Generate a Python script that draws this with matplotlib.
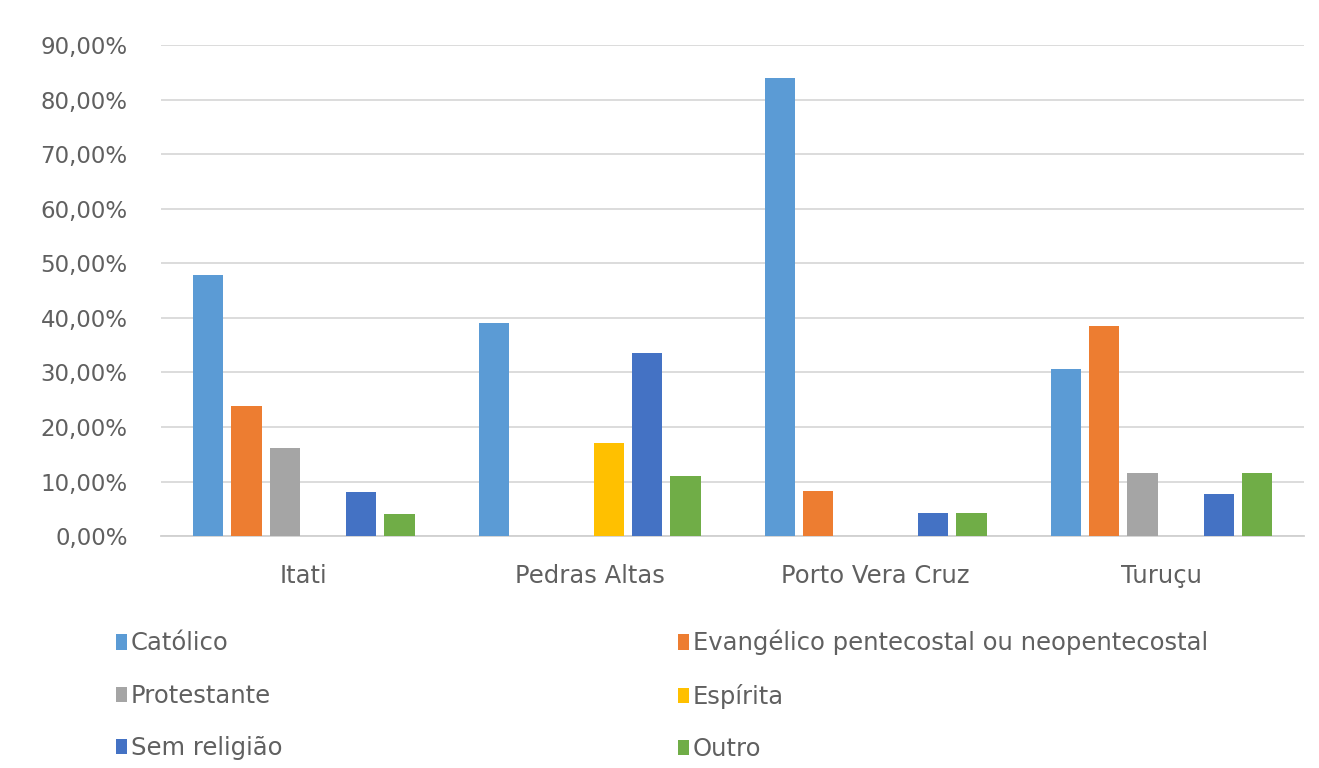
import numpy as np
import matplotlib
matplotlib.use("Agg")
import matplotlib.pyplot as plt
from matplotlib.patches import Patch
from matplotlib.ticker import FuncFormatter

# donnees (fractions)
municipios = ["Itati", "Pedras Altas", "Porto Vera Cruz", "Turuçu"]
religioes = ["Católico", "Evangélico pentecostal ou neopentecostal", "Protestante",
             "Espírita", "Sem religião", "Outro"]
catolico = [0.478, 0.390, 0.840, 0.307]
evangelico = [0.239, 0.0, 0.082, 0.385]
protestante = [0.161, 0.0, 0.0, 0.115]
espirita = [0.0, 0.170, 0.0, 0.0]
sem_religiao = [0.081, 0.335, 0.042, 0.077]
outro = [0.040, 0.110, 0.042, 0.115]

series = [catolico, evangelico, protestante, espirita, sem_religiao, outro]
cores = ["#5B9BD5", "#ED7D31", "#A5A5A5", "#FFC000", "#4472C4", "#70AD47"]

plt.rcParams["font.family"] = ["DejaVu Sans"]
cinza_texto = "#606060"

fig = plt.figure(figsize=(13.19, 7.68), dpi=100)
ax = fig.add_axes([0.122, 0.302, 0.867, 0.639])

x = np.arange(len(municipios))
passo = 0.134
largura = 0.106
for i, (vals, cor) in enumerate(zip(series, cores)):
    desloc = (i - 2.5) * passo
    ax.bar(x + desloc, vals, width=largura, color=cor, label=religioes[i], zorder=3)

ax.set_xlim(-0.5, 3.5)
ax.set_ylim(0, 0.9)
ax.set_yticks(np.arange(0, 0.91, 0.1))
ax.yaxis.set_major_formatter(FuncFormatter(lambda v, p: f"{v * 100:.2f}%".replace(".", ",")))
ax.set_xticks(x)
ax.set_xticklabels(municipios)
ax.tick_params(axis="both", length=0, colors=cinza_texto)
ax.tick_params(axis="x", pad=20, labelsize=17.5)
ax.tick_params(axis="y", pad=24, labelsize=16.5)
ax.grid(axis="y", color="#D9D9D9", linewidth=1.3, zorder=0)
for s in ["top", "right", "left"]:
    ax.spines[s].set_visible(False)
ax.spines["bottom"].set_color("#D0D0D0")
ax.spines["bottom"].set_linewidth(1.3)

# legende en deux colonnes
patches = [Patch(facecolor=c, label=r) for c, r in zip(cores, religioes)]
col1 = [patches[0], patches[2], patches[4]]
col2 = [patches[1], patches[3], patches[5]]
opts = dict(frameon=False, fontsize=17.5, handlelength=0.45, handleheight=0.6,
            handletextpad=0.15, labelspacing=1.17, labelcolor=cinza_texto,
            borderpad=0.2)
leg1 = fig.legend(handles=col1, loc="upper left", bbox_to_anchor=(0.075, 0.200), **opts)
leg2 = fig.legend(handles=col2, loc="upper left", bbox_to_anchor=(0.5015, 0.202), **opts)

fig.savefig("out.png", dpi=100, facecolor="white")
